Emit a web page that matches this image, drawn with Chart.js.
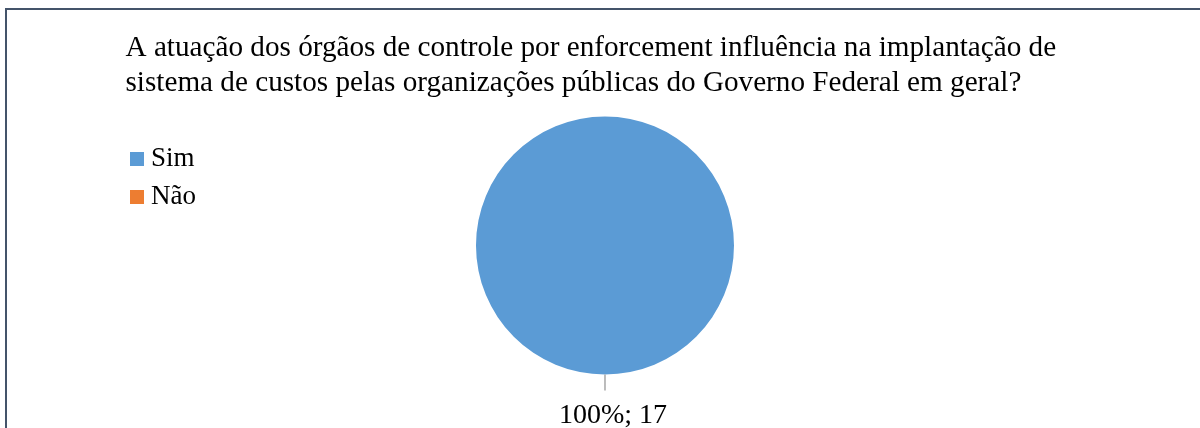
<!DOCTYPE html>
<html>
<head>
<meta charset="utf-8">
<script src="https://cdn.jsdelivr.net/npm/chart.js@4.4.1/dist/chart.umd.min.js"></script>
<style>
html,body{margin:0;padding:0;background:#ffffff;overflow:hidden;}
#wrap{position:relative;width:1200px;height:428px;}
canvas{display:block;}
</style>
</head>
<body>
<div id="wrap"><canvas id="c" width="1200" height="428"></canvas></div>
<script>
const titleLines = [
  "A atuação dos órgãos de controle por enforcement influência na implantação de",
  "sistema de custos pelas organizações públicas do Governo Federal em geral?"
];
const categories = ["Sim", "Não"];
const counts = [17, 0];
const colors = ["#5B9BD5", "#ED7D31"];

const serif = "'Liberation Serif', 'Times New Roman', serif";

const framePlugin = {
  id: 'frame',
  beforeDraw(chart) {
    const ctx = chart.ctx;
    ctx.save();
    ctx.strokeStyle = '#44546A';
    ctx.lineWidth = 2;
    ctx.beginPath();
    ctx.moveTo(6, chart.height);
    ctx.lineTo(6, 9);
    ctx.lineTo(chart.width, 9);
    ctx.stroke();
    ctx.restore();
  }
};

// let the title use the full width of the frame (the right padding only centres the pie)
const wideTitlePlugin = {
  id: 'wideTitle',
  afterLayout(chart) {
    if (chart.titleBlock) {
      chart.titleBlock.right = chart.width - 10;
      chart.titleBlock.width = chart.titleBlock.right - chart.titleBlock.left;
    }
  }
};

const labelPlugin = {
  id: 'sliceLabels',
  afterDatasetsDraw(chart) {
    const ctx = chart.ctx;
    const meta = chart.getDatasetMeta(0);
    const data = chart.data.datasets[0].data;
    const total = data.reduce((a, b) => a + b, 0);
    meta.data.forEach((arc, i) => {
      if (!data[i]) return;
      const p = arc.getProps(['x', 'y', 'startAngle', 'endAngle', 'outerRadius'], true);
      const mid = (p.startAngle + p.endAngle) / 2;
      const cx = Math.cos(mid), cy = Math.sin(mid);
      const x0 = p.x + cx * p.outerRadius, y0 = p.y + cy * p.outerRadius;
      const x1 = p.x + cx * (p.outerRadius + 16), y1 = p.y + cy * (p.outerRadius + 16);
      ctx.save();
      ctx.strokeStyle = '#A6A6A6';
      ctx.lineWidth = 1.5;
      ctx.beginPath();
      ctx.moveTo(x0, y0);
      ctx.lineTo(x1, y1);
      ctx.stroke();
      const pct = Math.round(data[i] / total * 100) + '%';
      ctx.fillStyle = '#000000';
      ctx.font = '28px ' + serif;
      ctx.textAlign = 'center';
      ctx.textBaseline = 'alphabetic';
      ctx.fillText(pct + '; ' + data[i], x1 + 8, y1 + 32);
      ctx.restore();
    });
  }
};

new Chart(document.getElementById('c'), {
  type: 'pie',
  data: {
    labels: categories,
    datasets: [{
      data: counts,
      backgroundColor: colors,
      borderWidth: 0,
      hoverOffset: 0
    }]
  },
  options: {
    responsive: false,
    animation: false,
    devicePixelRatio: 1,
    layout: { padding: { left: 125.5, right: 196, top: 0, bottom: 53.5 } },
    plugins: {
      tooltip: { enabled: false },
      title: {
        display: true,
        text: titleLines,
        align: 'start',
        color: '#000000',
        font: { family: serif, size: 29.2, weight: 'normal', lineHeight: 35.3 / 29.2 },
        padding: { top: 30.2, bottom: 15.7 }
      },
      legend: {
        display: true,
        position: 'left',
        align: 'start',
        fullSize: false,
        title: { display: true, text: '', font: { size: 1, lineHeight: 1 }, padding: { top: 17, bottom: 0 } },
        labels: {
          usePointStyle: true,
          pointStyle: 'rect',
          boxWidth: 1,
          boxHeight: 14,
          padding: 11,
          color: '#000000',
          font: { family: serif, size: 27, weight: 'normal' }
        }
      }
    }
  },
  plugins: [framePlugin, wideTitlePlugin, labelPlugin]
});
</script>
</body>
</html>
